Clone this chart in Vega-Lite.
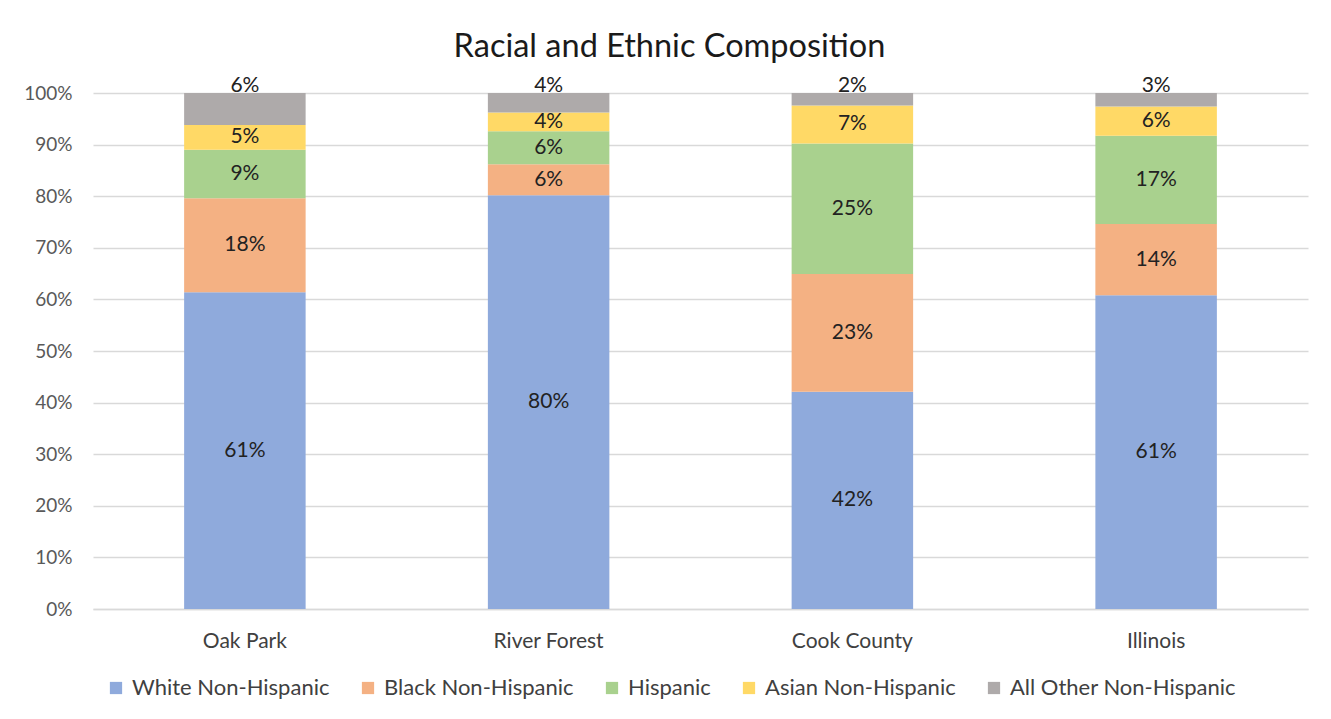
{
  "$schema": "https://vega.github.io/schema/vega-lite/v6.json",
  "width": 1215,
  "height": 516,
  "autosize": {"type": "none"},
  "padding": {"left": 93, "top": 93, "right": 23, "bottom": 110},
  "background": "white",
  "title": {
    "text": "Racial and Ethnic Composition",
    "fontSize": 32.5,
    "font": "Lato",
    "fontWeight": "normal",
    "color": "#1a1a1a",
    "anchor": "middle",
    "frame": "group",
    "dx": -31,
    "offset": 12
  },
  "config": {"font": "Lato", "view": {"stroke": null}},
  "data": {
    "values": [
      {"place": "Oak Park", "group": "White Non-Hispanic", "k": 1, "value": 0.614},
      {"place": "Oak Park", "group": "Black Non-Hispanic", "k": 2, "value": 0.182},
      {"place": "Oak Park", "group": "Hispanic", "k": 3, "value": 0.094},
      {"place": "Oak Park", "group": "Asian Non-Hispanic", "k": 4, "value": 0.048},
      {"place": "Oak Park", "group": "All Other Non-Hispanic", "k": 5, "value": 0.062},
      {"place": "River Forest", "group": "White Non-Hispanic", "k": 1, "value": 0.802},
      {"place": "River Forest", "group": "Black Non-Hispanic", "k": 2, "value": 0.060},
      {"place": "River Forest", "group": "Hispanic", "k": 3, "value": 0.064},
      {"place": "River Forest", "group": "Asian Non-Hispanic", "k": 4, "value": 0.036},
      {"place": "River Forest", "group": "All Other Non-Hispanic", "k": 5, "value": 0.038},
      {"place": "Cook County", "group": "White Non-Hispanic", "k": 1, "value": 0.421},
      {"place": "Cook County", "group": "Black Non-Hispanic", "k": 2, "value": 0.228},
      {"place": "Cook County", "group": "Hispanic", "k": 3, "value": 0.253},
      {"place": "Cook County", "group": "Asian Non-Hispanic", "k": 4, "value": 0.074},
      {"place": "Cook County", "group": "All Other Non-Hispanic", "k": 5, "value": 0.024},
      {"place": "Illinois", "group": "White Non-Hispanic", "k": 1, "value": 0.608},
      {"place": "Illinois", "group": "Black Non-Hispanic", "k": 2, "value": 0.138},
      {"place": "Illinois", "group": "Hispanic", "k": 3, "value": 0.171},
      {"place": "Illinois", "group": "Asian Non-Hispanic", "k": 4, "value": 0.057},
      {"place": "Illinois", "group": "All Other Non-Hispanic", "k": 5, "value": 0.026}
    ]
  },
  "encoding": {
    "x": {
      "field": "place",
      "type": "nominal",
      "sort": ["Oak Park", "River Forest", "Cook County", "Illinois"],
      "scale": {"paddingInner": 0.6, "paddingOuter": 0.3},
      "axis": {
        "title": null,
        "labelAngle": 0,
        "labelFontSize": 21,
        "labelColor": "#404040",
        "labelPadding": 21,
        "ticks": false,
        "domainColor": "#d9d9d9",
        "domainWidth": 1.5,
        "grid": false
      }
    }
  },
  "layer": [
    {
      "mark": {"type": "bar"},
      "encoding": {
        "y": {
          "field": "value",
          "type": "quantitative",
          "stack": "zero",
          "scale": {"domain": [0, 1], "nice": false},
          "axis": {
            "title": null,
            "values": [0, 0.1, 0.2, 0.3, 0.4, 0.5, 0.6, 0.7, 0.8, 0.9, 1],
            "format": ".0%",
            "grid": true,
            "gridColor": "#d9d9d9",
            "gridWidth": 1.3,
            "domain": false,
            "ticks": false,
            "labelFontSize": 19,
            "labelColor": "#595959",
            "labelPadding": 21
          }
        },
        "order": {"field": "k", "type": "quantitative"},
        "color": {
          "field": "group",
          "type": "nominal",
          "scale": {
            "domain": ["White Non-Hispanic", "Black Non-Hispanic", "Hispanic", "Asian Non-Hispanic", "All Other Non-Hispanic"],
            "range": ["#8faadc", "#f4b183", "#a9d18e", "#ffd966", "#aeaaaa"]
          },
          "legend": {
            "title": null,
            "orient": "none",
            "legendX": 12,
            "legendY": 584,
            "direction": "horizontal",
            "symbolType": "square",
            "symbolSize": 150,
            "symbolStrokeWidth": 0,
            "labelFontSize": 22,
            "labelLimit": 500,
            "labelColor": "#404040",
            "labelOffset": 5,
            "columnPadding": 27
          }
        }
      }
    },
    {
      "transform": [
        {"stack": "value", "groupby": ["place"], "sort": [{"field": "k"}], "as": ["y0", "y1"]},
        {"filter": "datum.group !== 'All Other Non-Hispanic'"},
        {"calculate": "(datum.y0 + datum.y1) / 2", "as": "ymid"}
      ],
      "mark": {"type": "text", "fontSize": 21, "color": "#222222", "baseline": "middle"},
      "encoding": {
        "y": {
          "field": "ymid",
          "type": "quantitative",
          "axis": {
            "title": null,
            "values": [0, 0.1, 0.2, 0.3, 0.4, 0.5, 0.6, 0.7, 0.8, 0.9, 1],
            "format": ".0%",
            "grid": true,
            "gridColor": "#d9d9d9",
            "gridWidth": 1.3,
            "domain": false,
            "ticks": false,
            "labelFontSize": 19,
            "labelColor": "#595959",
            "labelPadding": 21
          }
        },
        "text": {"field": "value", "type": "quantitative", "format": ".0%"}
      }
    },
    {
      "transform": [
        {"stack": "value", "groupby": ["place"], "sort": [{"field": "k"}], "as": ["y0", "y1"]},
        {"filter": "datum.group === 'All Other Non-Hispanic'"}
      ],
      "mark": {"type": "text", "fontSize": 21, "color": "#222222", "baseline": "alphabetic", "dy": -1},
      "encoding": {
        "y": {
          "field": "y1",
          "type": "quantitative",
          "axis": {
            "title": null,
            "values": [0, 0.1, 0.2, 0.3, 0.4, 0.5, 0.6, 0.7, 0.8, 0.9, 1],
            "format": ".0%",
            "grid": true,
            "gridColor": "#d9d9d9",
            "gridWidth": 1.3,
            "domain": false,
            "ticks": false,
            "labelFontSize": 19,
            "labelColor": "#595959",
            "labelPadding": 21
          }
        },
        "text": {"field": "value", "type": "quantitative", "format": ".0%"}
      }
    }
  ]
}
